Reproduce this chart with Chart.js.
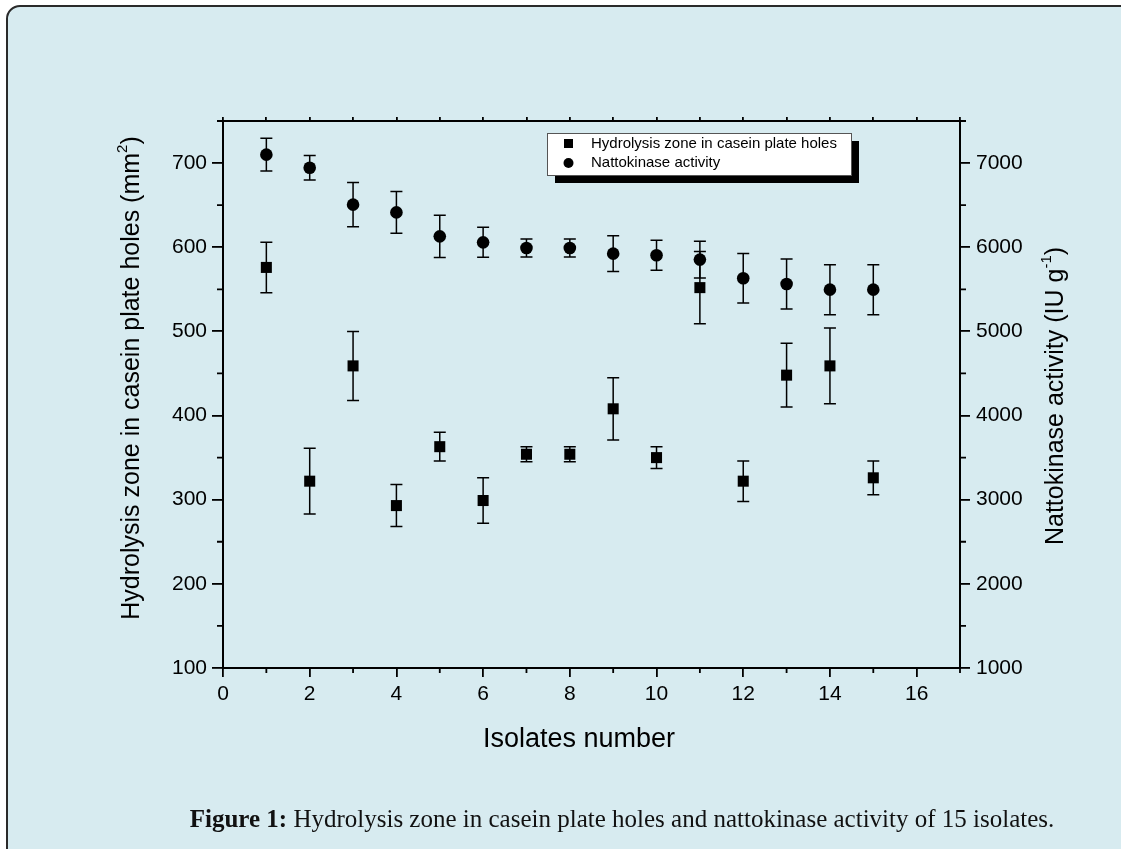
<!DOCTYPE html>
<html>
<head>
<meta charset="utf-8">
<script src="https://cdn.jsdelivr.net/npm/chart.js@4.4.0/dist/chart.umd.min.js"></script>
<style>
html, body { margin: 0; padding: 0; width: 1121px; height: 849px; overflow: hidden; background: #fff; }
#frame { position: absolute; left: 6px; top: 5px; width: 1140px; height: 880px; background: #d7ebf0;
  border: 2px solid #2a2a2a; border-radius: 14px; box-sizing: border-box; }
#c { position: absolute; left: 0; top: 0; }
#caption { position: absolute; left: 0; width: 1244px; top: 805px; text-align: center;
  font-family: "Liberation Serif", serif; font-size: 25px; color: #111; white-space: nowrap; }
</style>
</head>
<body>
<div id="frame"></div>
<canvas id="c" width="1121" height="849"></canvas>
<div id="caption"><b>Figure 1:</b> Hydrolysis zone in casein plate holes and nattokinase activity of 15 isolates.</div>
<script>
// values
const isolates = [1, 2, 3, 4, 5, 6, 7, 8, 9, 10, 11, 12, 13, 14, 15];
const zoneArea = [576, 322, 459, 293, 363, 299, 354, 354, 408, 350, 552, 322, 448, 459, 326];
const zoneErr = [30, 39, 41, 25, 17, 27, 9, 9, 37, 13, 43, 24, 38, 45, 20];
const activity = [7100, 6945, 6506, 6414, 6129, 6058, 5991, 5991, 5924, 5904, 5853, 5631, 5563, 5496, 5496];
const activityErr = [195, 145, 263, 247, 250, 178, 106, 106, 212, 178, 218, 295, 297, 297, 297];

// tick labels
const xTicks = [0, 2, 4, 6, 8, 10, 12, 14, 16];
const topTicks = [0, 1, 2, 3, 4, 5, 6, 7, 8, 9, 10, 11, 12, 13, 14, 15, 16, 17];
const leftTicks = [100, 200, 300, 400, 500, 600, 700];
const rightTicks = [1000, 2000, 3000, 4000, 5000, 6000, 7000];

const sans = "'Liberation Sans', Arial, sans-serif";

// text with superscript pieces, centred on (x, y), rotated by rot
function drawRich(ctx, parts, x, y, size, rot) {
  ctx.save();
  ctx.translate(x, y);
  ctx.rotate(rot);
  ctx.textBaseline = "middle";
  ctx.fillStyle = "#000";
  let w = 0;
  parts.forEach(p => {
    ctx.font = (p.sup ? size * 0.6 : size) + "px " + sans;
    w += ctx.measureText(p.t).width;
  });
  let cx = -w / 2;
  parts.forEach(p => {
    ctx.font = (p.sup ? size * 0.6 : size) + "px " + sans;
    ctx.fillText(p.t, cx, p.sup ? -size * 0.38 : 0);
    cx += ctx.measureText(p.t).width;
  });
  ctx.restore();
}

const errorBars = {
  id: "errorBars",
  beforeDatasetsDraw(chart) {
    const ctx = chart.ctx;
    const xs = chart.scales.x;
    const sets = [[zoneArea, zoneErr, chart.scales.y], [activity, activityErr, chart.scales.y2]];
    ctx.save();
    ctx.strokeStyle = "#000";
    ctx.lineWidth = 1.5;
    sets.forEach(([vals, errs, ys]) => {
      vals.forEach((v, i) => {
        const px = xs.getPixelForValue(isolates[i]);
        const top = ys.getPixelForValue(v + errs[i]);
        const bot = ys.getPixelForValue(v - errs[i]);
        ctx.beginPath();
        ctx.moveTo(px, top); ctx.lineTo(px, bot);
        ctx.moveTo(px - 6, top); ctx.lineTo(px + 6, top);
        ctx.moveTo(px - 6, bot); ctx.lineTo(px + 6, bot);
        ctx.stroke();
      });
    });
    ctx.restore();
  }
};

const extras = {
  id: "extras",
  afterDraw(chart) {
    const ctx = chart.ctx;
    const {x, y, y2} = chart.scales;
    const area = chart.chartArea;
    ctx.save();
    ctx.strokeStyle = "#000";
    ctx.lineWidth = 1.8;
    ctx.beginPath();
    // minor ticks
    for (let v = 1; v <= 17; v += 2) {
      const p = x.getPixelForValue(v);
      ctx.moveTo(p, area.bottom); ctx.lineTo(p, area.bottom + 5);
    }
    for (let v = 150; v <= 750; v += 100) {
      const p = y.getPixelForValue(v);
      ctx.moveTo(area.left, p); ctx.lineTo(area.left - 6, p);
    }
    for (let v = 1500; v <= 7500; v += 1000) {
      const p = y2.getPixelForValue(v);
      ctx.moveTo(area.right, p); ctx.lineTo(area.right + 6, p);
    }
    ctx.stroke();

    // axis titles
    drawRich(ctx, [{t: "Hydrolysis zone in casein plate holes (mm"}, {t: "2", sup: true}, {t: ")"}], 132, 378, 25, -Math.PI / 2);
    drawRich(ctx, [{t: "Nattokinase activity (IU g"}, {t: "-1", sup: true}, {t: ")"}], 1056, 396, 25, -Math.PI / 2);
    drawRich(ctx, [{t: "Isolates number"}], 579, 740, 27, 0);

    // legend with drop shadow
    const lx = 547, ly = 133, lw = 304, lh = 42;
    ctx.fillStyle = "#000";
    ctx.fillRect(lx + 8, ly + 8, lw, lh);
    ctx.fillStyle = "#fff";
    ctx.fillRect(lx, ly, lw, lh);
    ctx.strokeStyle = "#555";
    ctx.lineWidth = 1;
    ctx.strokeRect(lx + 0.5, ly + 0.5, lw, lh);
    ctx.fillStyle = "#000";
    ctx.font = "15px " + sans;
    ctx.textBaseline = "middle";
    const ds = chart.data.datasets;
    ctx.fillRect(lx + 17, ly + 6, 9, 9);
    ctx.fillText(ds[0].label, lx + 44, ly + 11);
    ctx.beginPath();
    ctx.arc(lx + 21.5, ly + 30, 5, 0, Math.PI * 2);
    ctx.fill();
    ctx.fillText(ds[1].label, lx + 44, ly + 30);
    ctx.restore();
  }
};

const tickFont = {family: sans, size: 21};
const axisGrid = (len) => ({drawOnChartArea: false, tickLength: len, color: "#000", lineWidth: 1.8});
const axisBorder = {color: "#000", width: 2};
const fixTicks = (list) => (s) => { s.ticks = list.map(v => ({value: v})); };
const plain = (v) => String(v);

new Chart(document.getElementById("c"), {
  type: "scatter",
  data: {
    datasets: [
      {
        label: "Hydrolysis zone in casein plate holes",
        data: isolates.map((v, i) => ({x: v, y: zoneArea[i]})),
        yAxisID: "y",
        pointStyle: "rect",
        pointRadius: 7.8,
        backgroundColor: "#000",
        borderColor: "#000",
        borderWidth: 0,
      },
      {
        label: "Nattokinase activity",
        data: isolates.map((v, i) => ({x: v, y: activity[i]})),
        yAxisID: "y2",
        pointStyle: "circle",
        pointRadius: 6.3,
        backgroundColor: "#000",
        borderColor: "#000",
        borderWidth: 0,
      },
    ],
  },
  options: {
    responsive: false,
    animation: false,
    layout: {padding: 0, autoPadding: false},
    plugins: {legend: {display: false}, tooltip: {enabled: false}},
    scales: {
      x: {
        type: "linear", position: "bottom", min: 0, max: 17,
        ticks: {font: tickFont, color: "#000", padding: 5, maxRotation: 0, autoSkip: false, callback: plain},
        afterBuildTicks: fixTicks(xTicks),
        grid: axisGrid(9),
        border: axisBorder,
        afterFit: s => { s.height = 181; },
      },
      x2: {
        type: "linear", position: "top", min: 0, max: 17,
        ticks: {callback: () => "", padding: 0, autoSkip: false},
        afterBuildTicks: fixTicks(topTicks),
        grid: axisGrid(4),
        border: axisBorder,
        afterFit: s => { s.height = 121; },
      },
      y: {
        type: "linear", position: "left", min: 100, max: 750,
        ticks: {font: tickFont, color: "#000", padding: 5, autoSkip: false, callback: plain},
        afterBuildTicks: fixTicks(leftTicks),
        grid: axisGrid(11),
        border: axisBorder,
        afterFit: s => { s.width = 223; },
      },
      y2: {
        type: "linear", position: "right", min: 1000, max: 7500,
        ticks: {font: tickFont, color: "#000", padding: 6, autoSkip: false, callback: plain},
        afterBuildTicks: fixTicks(rightTicks),
        grid: axisGrid(10),
        border: axisBorder,
        afterFit: s => { s.width = 161; },
      },
    },
  },
  plugins: [errorBars, extras],
});
</script>
</body>
</html>
